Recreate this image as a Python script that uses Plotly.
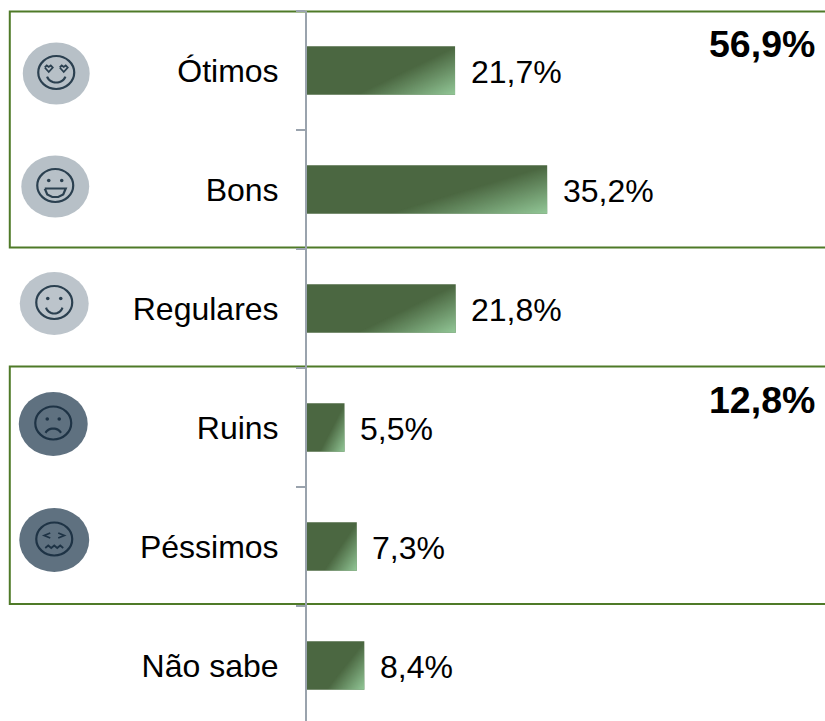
import base64, struct, zlib, math
import plotly.graph_objects as go

categories = ["Ótimos", "Bons", "Regulares", "Ruins", "Péssimos", "Não sabe"]
values = [21.7, 35.2, 21.8, 5.5, 7.3, 8.4]
group_totals = ["56,9%", "12,8%"]

W, H = 825, 721
L, T = 306.5, 11
DARK = "#4b6741"
LIGHT = (147, 200, 152)
GREEN = "#4f7a28"
AXIS = "#9aa3ad"
FONT = "Liberation Sans, Arial, sans-serif"


def gradient_png(w=240, h=48):
    rows = bytearray()
    for j in range(h):
        rows.append(0)
        y = (j + .5) / h
        for i in range(w):
            x = (i + .5) / w
            t = max(0.0, min(1.0, (x - 0.33) / 0.67 + y - 1))
            rows += bytes((*LIGHT, int(t * 255)))

    def chunk(tag, data):
        return struct.pack(">I", len(data)) + tag + data + struct.pack(">I", zlib.crc32(tag + data))

    png = (b"\x89PNG\r\n\x1a\n" + chunk(b"IHDR", struct.pack(">IIBBBBB", w, h, 8, 6, 0, 0, 0))
           + chunk(b"IDAT", zlib.compress(bytes(rows))) + chunk(b"IEND", b""))
    return "data:image/png;base64," + base64.b64encode(png).decode()


px = lambda x: (x - L) / (W - L)
py = lambda y: 1 - (y - T) / (H - T)
BAND = 119
BAR = 48.5

fig = go.Figure(go.Bar(
    y=categories, x=values, orientation="h", marker=dict(color=DARK, line_width=0),
    hoverinfo="skip",
))

shapes, images, annotations = [], [], []

grad = gradient_png()
for i, v in enumerate(values):
    images.append(dict(source=grad, xref="x", yref="y", x=0, y=i, sizex=v, sizey=BAR / BAND,
                       xanchor="left", yanchor="middle", sizing="stretch", layer="above"))
    annotations.append(dict(xref="x", yref="y", x=v, y=i, xanchor="left", yanchor="middle",
                            xshift=13.5, yshift=-1, showarrow=False, text=f"{v:.1f}%".replace(".", ","),
                            font=dict(size=32, color="#000", family=FONT)))

for (top, bottom), label, ly in zip([(11.5, 247.5), (366.5, 604)], group_totals, [44, 400]):
    shapes.append(dict(type="rect", xref="paper", yref="paper", x0=px(9), x1=px(830), y0=py(bottom), y1=py(top),
                       line=dict(color=GREEN, width=2), layer="below"))
    annotations.append(dict(xref="paper", yref="paper", x=px(817), y=py(ly), xanchor="right", yanchor="middle",
                            showarrow=False, text=f"<b>{label}</b>",
                            font=dict(size=37.5, color="#000", family=FONT)))


def ellipse(cx, cy, rx, ry, **kw):
    shapes.append(dict(type="circle", xref="paper", yref="paper", x0=px(cx - rx), x1=px(cx + rx),
                       y0=py(cy + ry), y1=py(cy - ry), **kw))


def curve(points, color, width=2.2):
    d = "M " + " L ".join(f"{px(a):.5f},{py(b):.5f}" for a, b in points)
    shapes.append(dict(type="path", xref="paper", yref="paper", path=d, line=dict(color=color, width=width)))


def arc(cx, cy, rx, ry, a0, a1, color, width=2.2, n=14):
    curve([(cx + rx * math.cos(math.radians(a0 + (a1 - a0) * k / n)),
            cy + ry * math.sin(math.radians(a0 + (a1 - a0) * k / n))) for k in range(n + 1)], color, width)


INK = "#2b4050"
faces = [
    (55.5, 73.5, 33.5, 31, "#b7c0c7", "love"),
    (54.5, 186.5, 34, 31, "#b7c0c7", "grin"),
    (53.5, 303.5, 34.5, 31.5, "#bcc4cb", "smile"),
    (52.5, 424, 34.5, 32, "#5f7180", "sad"),
    (53.5, 540, 35, 32, "#5f7180", "angry"),
]
for cx, cy, rx, ry, col, kind in faces:
    ellipse(cx, cy, rx, ry, fillcolor=col, line_width=0, layer="above")
    ink = "#1e3345" if kind in ("sad", "angry") else INK
    ellipse(cx, cy - 1, 18, 16.5, line=dict(color=ink, width=2.2), layer="above")
    if kind == "love":
        for s in (-1, 1):
            ex = cx + s * 7.5
            curve([(ex - 4, cy - 6), (ex - 2, cy - 8), (ex, cy - 6.5), (ex + 2, cy - 8), (ex + 4, cy - 6),
                   (ex, cy - 1.5), (ex - 4, cy - 6)], ink, 1.8)
        arc(cx, cy + 1, 9.5, 8, 15, 165, ink)
    elif kind == "grin":
        for s in (-1, 1):
            ellipse(cx + s * 6.5, cy - 6, 1.8, 1.8, fillcolor=ink, line_width=0, layer="above")
        curve([(cx - 10.5, cy + 2), (cx + 10.5, cy + 2), (cx + 8, cy + 8), (cx + 3, cy + 10.5), (cx - 3, cy + 10.5),
               (cx - 8, cy + 8), (cx - 10.5, cy + 2)], ink)
    elif kind == "smile":
        for s in (-1, 1):
            ellipse(cx + s * 6.5, cy - 5, 1.8, 1.8, fillcolor=ink, line_width=0, layer="above")
        arc(cx, cy + 2, 8.5, 8, 15, 165, ink)
    elif kind == "sad":
        for s in (-1, 1):
            ellipse(cx + s * 6, cy - 5, 1.8, 1.8, fillcolor=ink, line_width=0, layer="above")
        arc(cx, cy + 12, 8.5, 7.5, 205, 335, ink)
    else:
        for s in (-1, 1):
            ex = cx + s * 7
            curve([(ex - s * 3, cy - 7), (ex + s * 3, cy - 4.5), (ex - s * 3, cy - 2)], ink, 1.8)
        curve([(cx - 9, cy + 8), (cx - 6, cy + 5.5), (cx - 3, cy + 8), (cx, cy + 5.5), (cx + 3, cy + 8),
               (cx + 6, cy + 5.5), (cx + 9, cy + 8)], ink, 1.8)

fig.update_layout(
    width=W, height=H, autosize=False, showlegend=False,
    margin=dict(l=L, r=0, t=T, b=0, pad=0),
    paper_bgcolor="white", plot_bgcolor="white",
    bargap=1 - BAR / BAND,
    font=dict(family=FONT, color="#000"),
    shapes=shapes, images=images, annotations=annotations,
    xaxis=dict(range=[0, (W - L) / 6.83], visible=False, fixedrange=True),
    yaxis=dict(
        type="category", categoryorder="array", categoryarray=categories,
        range=[-0.5 + (H - T) / BAND, -0.5],
        showgrid=False, zeroline=False, showline=True, linecolor=AXIS, linewidth=2,
        ticks="outside", tickson="boundaries", ticklen=9, tickwidth=2, tickcolor=AXIS,
        ticklabelstandoff=20,
        tickfont=dict(size=32, color="#000", family=FONT),
    ),
)
fig.write_html("out.html", config=dict(displayModeBar=False),
               post_script="document.body.style.margin='0';document.body.style.overflow='hidden';")
